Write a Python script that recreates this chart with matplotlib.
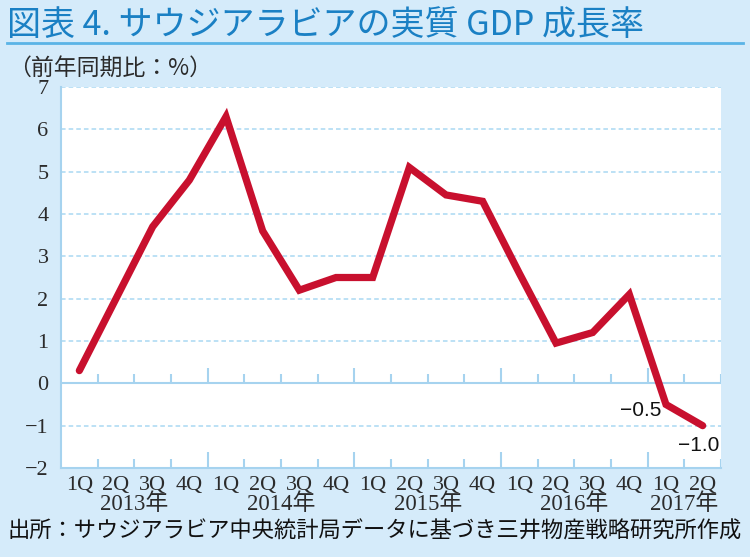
import matplotlib
matplotlib.use("Agg")
import matplotlib.pyplot as plt
from matplotlib.lines import Line2D
import matplotlib.transforms as mtransforms

# ---------------- data ----------------
quarter_labels = ["1Q", "2Q", "3Q", "4Q", "1Q", "2Q", "3Q", "4Q", "1Q", "2Q",
                  "3Q", "4Q", "1Q", "2Q", "3Q", "4Q", "1Q", "2Q"]
years = [2013, 2013, 2013, 2013, 2014, 2014, 2014, 2014, 2015, 2015,
         2015, 2015, 2016, 2016, 2016, 2016, 2017, 2017]
year_labels = ["2013年", "2014年", "2015年", "2016年", "2017年"]
gdp_growth = [0.3, 2.0, 3.7, 4.8, 6.3, 3.6, 2.2, 2.5, 2.5, 5.1,
              4.45, 4.3, 2.6, 0.95, 1.2, 2.1, -0.5, -1.0]
annotated = {16: "−0.5", 17: "−1.0"}
y_ticks = [-2, -1, 0, 1, 2, 3, 4, 5, 6, 7]

title = "図表 4. サウジアラビアの実質 GDP 成長率"
unit_label = "（前年同期比：%）"
source = "出所：サウジアラビア中央統計局データに基づき三井物産戦略研究所作成"

# ---------------- style ----------------
BG = "#d5ebfa"
GRID = "#a9d8f2"
AXIS = "#a6d3ef"
LINE = "#c8102e"
TITLE_C = "#1a80c4"
TXT = "#2b2b2b"
SERIF = ["Liberation Serif", "Noto Sans CJK JP"]
CJK = ["Noto Sans CJK JP", "DejaVu Sans"]

fig = plt.figure(figsize=(7.5, 5.57), dpi=100, facecolor=BG)
AX_L, AX_R, AX_T, AX_B = 61, 721, 87, 468
ax = fig.add_axes([AX_L / 750, 1 - AX_B / 557, (AX_R - AX_L) / 750,
                   (AX_B - AX_T) / 557])
ax.set_facecolor("white")

x = list(range(len(gdp_growth)))
ax.set_xlim(-0.5, len(gdp_growth) - 0.5)
ax.set_ylim(y_ticks[0], y_ticks[-1])

# grid lines
for yv in y_ticks:
    if yv in (0, y_ticks[0]):
        continue
    ax.axhline(yv, color=GRID, lw=1.1, ls=(0, (3, 2)), zorder=1)
ax.axhline(0, color=AXIS, lw=1.5, zorder=2)

# spines
for s in ["top", "right"]:
    ax.spines[s].set_visible(False)
ax.spines["left"].set_color(AXIS)
ax.spines["left"].set_linewidth(1.5)
ax.spines["bottom"].set_color(AXIS)
ax.spines["bottom"].set_linewidth(1.5)

# boundary ticks at the zero line and at the bottom
n = len(gdp_growth)
for k in range(1, n + 1):
    bx = k - 0.5
    is_year = k < n and years[k] != years[k - 1]
    h = 0.37 if is_year else 0.21
    for base in (y_ticks[0], 0):
        ax.vlines(bx, base, base + h, color=AXIS, lw=1.5, zorder=2)

# line
ax.plot(x, gdp_growth, color=LINE, lw=5.2, solid_joinstyle="miter",
        solid_capstyle="round", zorder=5)

# annotations
offsets = {16: (-3, -4, "right"), 17: (-3, -14, "center")}
for i, txt in annotated.items():
    dx, dy, ha = offsets[i]
    ax.annotate(txt, (x[i], gdp_growth[i]), xytext=(dx, dy),
                textcoords="offset points", ha=ha, va="center",
                fontsize=15, family=["Liberation Sans"], color="#111111")

# y ticks
ax.set_yticks(y_ticks)
ax.set_yticklabels([str(v).replace("-", "−") for v in y_ticks],
                   family=["Liberation Serif"], fontsize=16, color=TXT)
ax.tick_params(axis="y", length=0, pad=9)

# x labels (quarters and years) placed on baselines
ax.set_xticks([])
trans = mtransforms.blended_transform_factory(ax.transData, ax.transAxes)
q_base = -(490 - AX_B) / (AX_B - AX_T)
y_base = -(510 - AX_B) / (AX_B - AX_T)
for xi, lab in zip(x, quarter_labels):
    ax.text(xi, q_base, lab, transform=trans, ha="center", va="baseline",
            family=["Liberation Serif"], fontsize=16, color=TXT)
uniq_years = sorted(set(years))
for yr, lab in zip(uniq_years, year_labels):
    idx = [i for i, v in enumerate(years) if v == yr]
    cx = sum(idx) / len(idx)
    ax.text(cx, y_base, lab, transform=trans, ha="center", va="baseline",
            family=SERIF, fontsize=16.5, color=TXT)

# title & texts
fig.text(7 / 750, 1 - 25 / 557, title, ha="left", va="center", fontsize=24.5,
         family=CJK, color=TITLE_C)
fig.add_artist(Line2D([7 / 750, 743 / 750], [1 - 43 / 557, 1 - 43 / 557],
                      color="#5ab4e6", lw=2))
fig.text(8 / 750, 1 - 68 / 557, unit_label, ha="left", va="center",
         fontsize=16.5, family=CJK, color=TXT)
fig.text(8 / 750, 1 - 531 / 557, source, ha="left", va="center",
         fontsize=16, family=CJK, color="#111111")

fig.savefig("out.png", dpi=100, facecolor=BG)
